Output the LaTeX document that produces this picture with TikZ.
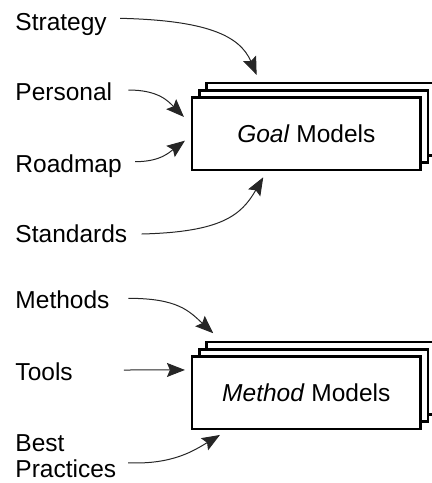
\documentclass[tikz,border=0pt]{standalone}
\usepackage{fontspec}
\setmainfont{Liberation Sans}
\usetikzlibrary{arrows.meta}
\begin{document}
\begin{tikzpicture}[x=1pt,y=-1pt,
  lab/.style={font=\fontsize{24.5}{26.5}\selectfont, inner sep=0pt, outer sep=0pt, anchor=base west},
  sheet/.style={draw=black, line width=2.8pt, fill=white, minimum width=228.7pt, minimum height=72.3pt, inner sep=0pt, outer sep=0pt, font=\fontsize{24.5}{29}\selectfont},
  feed/.style={draw=black!85, line width=1pt, -{Stealth[length=18pt,width=14pt,inset=3pt]}}]
\useasboundingbox (0,0) rectangle (432,483);
% goal models stack
\node[sheet] (goalc) at (320.9,119.2) {};
\node[sheet] (goalb) at (313.6,126.5) {};
\node[sheet] (goal) at (306.3,133.8) {\textit{Goal} Models};
% method models stack
\node[sheet] (methc) at (320.9,378.2) {};
\node[sheet] (methb) at (313.6,385.5) {};
\node[sheet] (meth) at (306.3,392.8) {\textit{Method} Models};
% labels
\node[lab] (strat) at (15.5,30) {Strategy};
\node[lab] (pers) at (15.5,100) {Personal};
\node[lab] (road) at (15.5,172.7) {Roadmap};
\node[lab] (stand) at (15.5,242.7) {Standards};
\node[lab] (meths) at (15.5,308.3) {Methods};
\node[lab] (tools) at (15.5,380) {Tools};
\node[lab, align=left, anchor=north west] (bp) at (15.5,434.5) {Best\\Practices};
% connectors
\draw[feed] ([xshift=13.3pt,yshift=11.7pt]strat.base east) .. controls +(85,2) and +(-17,-40) .. ([shift={(64.7,-22.7)}]goal.north west);
\draw[feed] ([xshift=16.1pt,yshift=10pt]pers.base east) .. controls +(30,0) and +(-16,-16) .. ([shift={(-8,19.3)}]goal.north west);
\draw[feed] ([xshift=13.3pt,yshift=11pt]road.base east) .. controls +(25,0) and +(-16,12) .. ([shift={(-7,43)}]goal.north west);
\draw[feed] ([xshift=14.5pt,yshift=8.7pt]stand.base east) .. controls +(80,-2) and +(-22,38) .. ([shift={(71.3,7.3)}]goal.south west);
\draw[feed] ([xshift=18.8pt,yshift=10pt]meths.base east) .. controls +(50,0) and +(-24,-22) .. ([shift={(21.3,-23.4)}]meth.north west);
\draw[feed] ([xshift=51.3pt,yshift=10pt]tools.base east) -- ([shift={(-7,13.3)}]meth.north west);
\draw[feed] ([xshift=11.8pt,yshift=15.3pt]bp.south east) .. controls +(45,2) and +(-25,15) .. ([shift={(28,6)}]meth.south west);
\end{tikzpicture}
\end{document}
